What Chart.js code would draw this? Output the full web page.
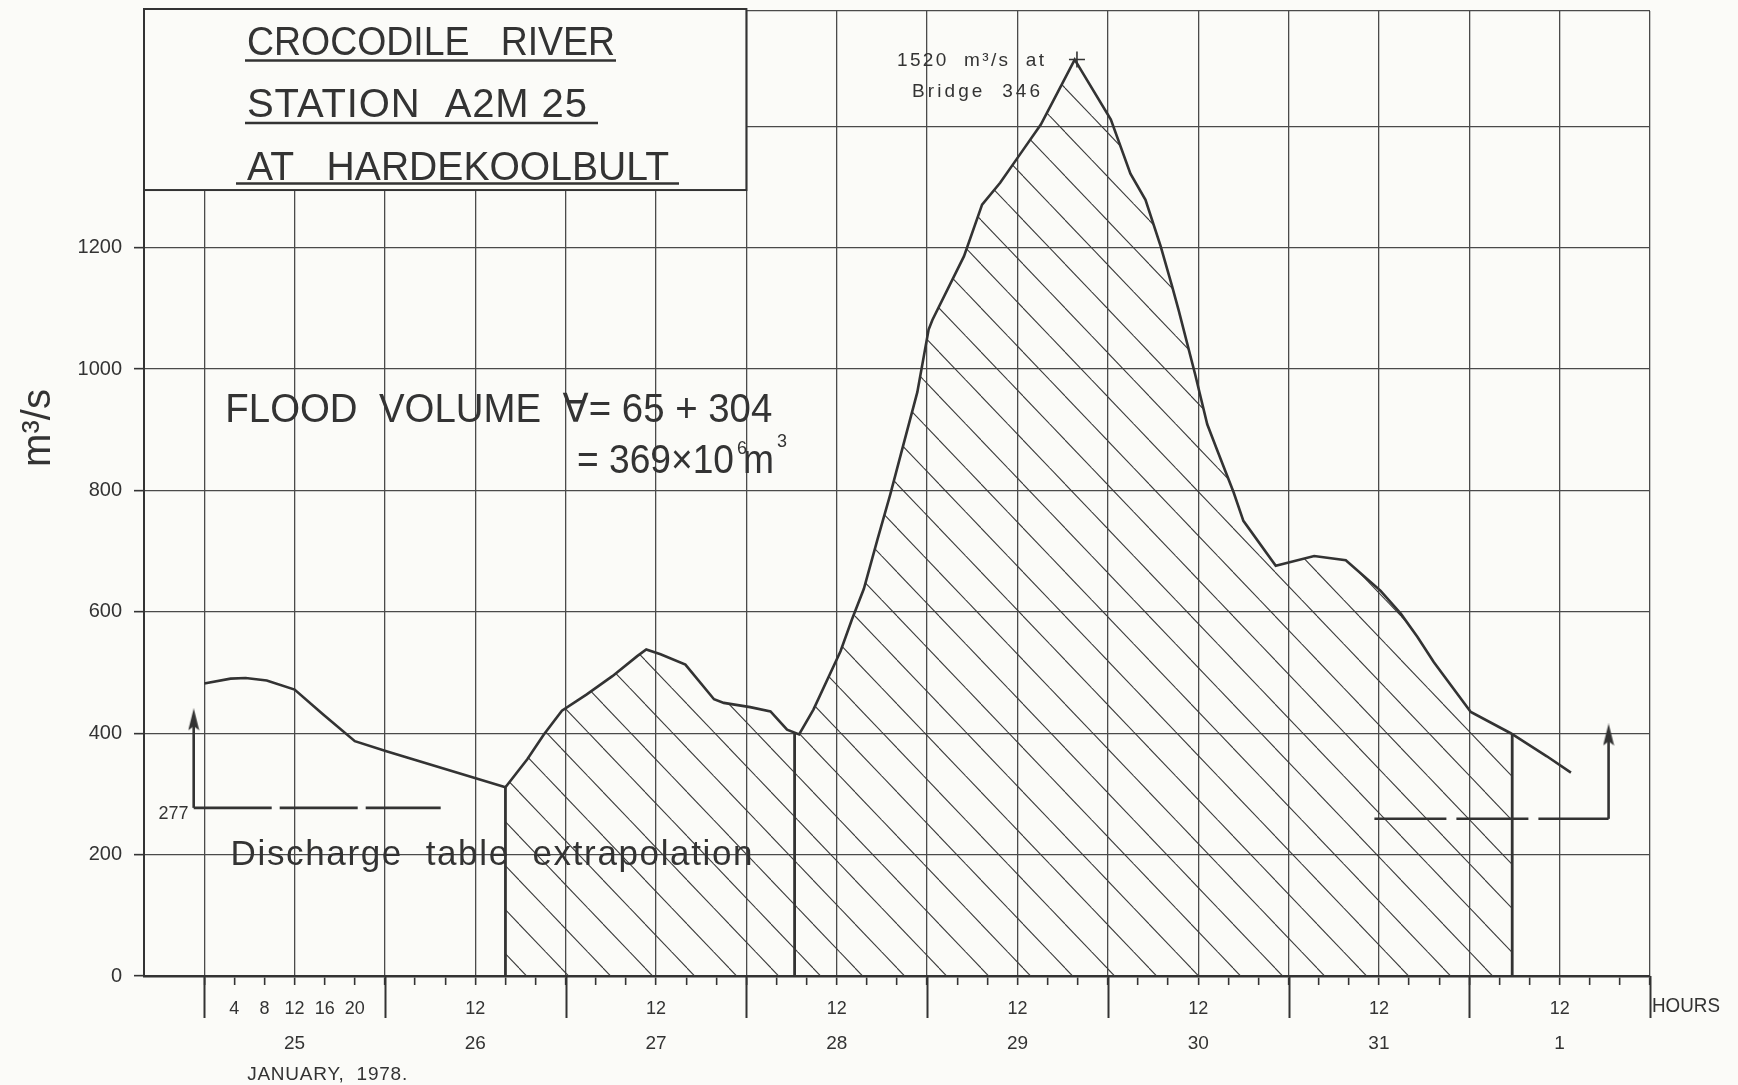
<!DOCTYPE html>
<html>
<head>
<meta charset="utf-8">
<title>Crocodile River - Station A2M25 at Hardekoolbult</title>
<script src="https://cdn.jsdelivr.net/npm/chart.js@4.4.1/dist/chart.umd.min.js"></script>
<style>
  html, body { margin: 0; padding: 0; background: #fbfbf8; }
  canvas { display: block; }
</style>
</head>
<body>
<canvas id="flood" width="1738" height="1085"></canvas>
<script>
// hours counted from 25 January 1978, 00:00
const flowHours = [0, 3.5, 5.5, 8.3, 12, 15.8, 20, 24.3, 40,
  42.9, 45.1, 47.5, 50.8, 54.2, 57.5, 58.7, 60.6, 63.9, 67.7,
  69, 72.5, 75.2, 77.4, 79, 80.9, 84.5, 86, 87.6, 89.4,
  91.1, 92.5, 94.7, 96.2, 96.7, 100.9, 103.3, 105.7, 108.4, 111.1,
  113.3, 115.6, 120.4, 123, 125, 127, 128.5, 129.4, 131.6, 133.2,
  134.5, 136.7, 138, 142.3, 147.4, 151.6, 156.2, 158.9, 161.1, 163.3,
  168.2, 173.5, 178.3, 181.5];
// discharge m3/s
const flowValues = [482, 490, 491, 487, 472, 431, 387, 370, 311,
  357, 398, 437, 464, 494, 527, 538, 530, 513, 456,
  450, 443, 436, 406, 398, 439, 535, 587, 638, 719,
  793, 859, 962, 1065, 1081, 1186, 1271, 1307, 1355, 1403,
  1455, 1510, 1411, 1322, 1279, 1203, 1138, 1097, 991, 909,
  867, 797, 750, 676, 692, 685, 635, 597, 559, 517,
  435, 400, 362, 335];

// vertical lines closing the hatched volumes (65 and 304)
const boundaryHours = [40, 78.4, 173.7];
const boundaryTops = [311, 401, 398];

// discharge table extrapolation marks
const extrapHours = [-1.4, 186.5];
const extrapLevels = [277, 259];
const extrapArrowTops = [418, 393];
const extrapDashEnds = [31.4, 155.4];

const peakHour = 115.9;
const peakValue = 1510;

// axis labels
const dayLabels = ["25", "26", "27", "28", "29", "30", "31", "1"];
const day25Hours = [4, 8, 12, 16, 20];
const yTickValues = [0, 200, 400, 600, 800, 1000, 1200, 1400, 1590];
const titleLines = ["CROCODILE   RIVER", "STATION  A2M 25", "AT   HARDEKOOLBULT"];

const ink = "#333333";
const gridInk = "#4a4a4a";
const paper = "#fbfbf8";
const FONT = '"Liberation Sans", "DejaVu Sans", sans-serif';

// text of given size, stretched with letter spacing or squeezed to a width
function putText(ctx, text, x, y, size, width) {
  ctx.save();
  ctx.font = size + "px " + FONT;
  ctx.fillStyle = ink;
  ctx.textAlign = "left";
  ctx.textBaseline = "alphabetic";
  const w = ctx.measureText(text).width;
  if (width && w < width && text.length > 1) {
    ctx.letterSpacing = ((width - w) / (text.length - 1)).toFixed(2) + "px";
    ctx.fillText(text, x, y);
  } else if (width && w > width) {
    ctx.translate(x, y);
    ctx.scale(width / w, 1);
    ctx.fillText(text, 0, 0);
  } else {
    ctx.fillText(text, x, y);
  }
  ctx.restore();
}

function hatchPattern(ctx) {
  const c = document.createElement("canvas");
  c.width = 42;
  c.height = 44;
  const g = c.getContext("2d");
  g.strokeStyle = "#3a3a3a";
  g.lineWidth = 1.1;
  for (let n = -1; n <= 1; n++) {
    g.beginPath();
    g.moveTo(n * 42 + 15, 0);
    g.lineTo(n * 42 + 57, 44);
    g.stroke();
  }
  return ctx.createPattern(c, "repeat");
}

function arrowHead() {
  const c = document.createElement("canvas");
  c.width = 12;
  c.height = 28;
  const g = c.getContext("2d");
  g.fillStyle = ink;
  g.beginPath();
  g.moveTo(6, 0);
  g.lineTo(11.5, 22);
  g.lineTo(6, 18);
  g.lineTo(0.5, 22);
  g.closePath();
  g.fill();
  return c;
}

const curvePoints = flowHours.map((h, i) => ({ x: h, y: flowValues[i] }));
const hatchStart = boundaryHours[0];
const hatchEnd = boundaryHours[boundaryHours.length - 1];
const hatchPoints = curvePoints.filter(p => p.x >= hatchStart && p.x <= hatchEnd);
hatchPoints.push({ x: hatchEnd, y: boundaryTops[boundaryTops.length - 1] });

const canvas = document.getElementById("flood");
const ctx = canvas.getContext("2d");
const head = arrowHead();

const datasets = [];
datasets.push({
  data: hatchPoints,
  fill: "origin",
  backgroundColor: hatchPattern(ctx),
  borderWidth: 0,
  pointRadius: 0,
  order: 9,
});
datasets.push({
  data: curvePoints,
  borderColor: ink,
  borderWidth: 2.6,
  pointRadius: 0,
  fill: false,
  order: 1,
});
boundaryHours.forEach((h, i) => {
  datasets.push({
    data: [{ x: h, y: 0 }, { x: h, y: boundaryTops[i] }],
    borderColor: ink,
    borderWidth: 2.8,
    pointRadius: 0,
    fill: false,
    order: 2,
  });
});
extrapHours.forEach((h, i) => {
  datasets.push({
    data: [{ x: h, y: extrapLevels[i] }, { x: h, y: extrapArrowTops[i] }],
    borderColor: ink,
    borderWidth: 2.6,
    pointStyle: head,
    pointRadius: [0, 8],
    fill: false,
    order: 2,
  });
  const a = Math.min(h, extrapDashEnds[i]);
  const b = Math.max(h, extrapDashEnds[i]);
  datasets.push({
    data: [{ x: a, y: extrapLevels[i] }, { x: b, y: extrapLevels[i] }],
    borderColor: ink,
    borderWidth: 2.6,
    borderDash: i === 0 ? [78, 8] : [72, 10],
    pointRadius: 0,
    fill: false,
    order: 2,
  });
});
datasets.push({
  data: [{ x: peakHour, y: peakValue }],
  showLine: false,
  pointStyle: "cross",
  pointRadius: 8,
  borderColor: ink,
  borderWidth: 1.6,
  order: 2,
});

// titles, day labels and notes
const notes = {
  id: "notes",
  beforeDraw(chart) {
    const c = chart.ctx;
    c.save();
    c.fillStyle = paper;
    c.fillRect(0, 0, chart.width, chart.height);
    c.restore();
  },
  afterDraw(chart) {
    const c = chart.ctx;
    const xs = chart.scales.x;
    const ys = chart.scales.y;
    const X = h => xs.getPixelForValue(h);
    const Y = v => ys.getPixelForValue(v);

    // title box
    const bx0 = xs.left;
    const bx1 = X(72);
    const by0 = chart.chartArea.top - 2;
    const by1 = Y(1295);
    c.save();
    c.fillStyle = paper;
    c.fillRect(bx0, by0 - 2, bx1 - bx0, by1 - by0 + 2);
    c.strokeStyle = ink;
    c.lineWidth = 2;
    c.strokeRect(bx0, by0, bx1 - bx0, by1 - by0);
    c.restore();

    const lineBase = [55, 117, 180];
    const lineWidth = [368, 340, 422];
    const underY = [60.5, 123, 183.5];
    const underX = [[245, 616], [245, 598], [236, 679]];
    titleLines.forEach((t, i) => {
      putText(c, t, bx0 + 103, lineBase[i], 40, lineWidth[i]);
      c.save();
      c.strokeStyle = ink;
      c.lineWidth = 2.4;
      c.beginPath();
      c.moveTo(underX[i][0], underY[i]);
      c.lineTo(underX[i][1], underY[i]);
      c.stroke();
      c.restore();
    });

    // peak note
    putText(c, "1520  m³/s  at", X(92), Y(1500), 19, 147);
    putText(c, "Bridge  346", X(94), Y(1449), 19, 128);

    // flood volume
    putText(c, "FLOOD  VOLUME  ∀= 65 + 304", X(2.8), Y(912), 40, 547);
    const l2x = X(49.5);
    const l2y = Y(829.6);
    putText(c, "= 369×10", l2x, l2y, 40, 157);
    putText(c, "6", l2x + 160, l2y - 19, 18);
    putText(c, "m", l2x + 166, l2y, 40, 31);
    putText(c, "3", l2x + 200, l2y - 26, 18);

    putText(c, "Discharge  table  extrapolation", X(3.5), Y(183), 35, 522);

    c.save();
    c.font = "18px " + FONT;
    c.fillStyle = ink;
    c.textAlign = "right";
    c.fillText("277", X(-2.1), Y(259));
    c.restore();

    // long day ticks below the axis
    c.save();
    c.strokeStyle = ink;
    c.lineWidth = 2;
    for (let d = 0; d <= dayLabels.length; d++) {
      const px = Math.round(X(d * 24)) + 0.5;
      c.beginPath();
      c.moveTo(px, chart.chartArea.bottom);
      c.lineTo(px, chart.chartArea.bottom + 42);
      c.stroke();
    }
    c.restore();

    // day numbers
    c.save();
    c.font = "19px " + FONT;
    c.fillStyle = ink;
    c.textAlign = "center";
    dayLabels.forEach((d, i) => c.fillText(d, X(12 + 24 * i), 1049));
    c.restore();

    putText(c, "JANUARY,  1978.", X(5.7), 1080, 19, 160);
    putText(c, "HOURS", xs.right + 2, 1012, 20, 68);

    // y axis title
    c.save();
    c.translate(50, 428);
    c.rotate(-Math.PI / 2);
    c.font = "40px " + FONT;
    c.fillStyle = ink;
    c.textAlign = "center";
    c.fillText("m³/s", 0, 0);
    c.restore();
  },
};

new Chart(ctx, {
  type: "line",
  data: { datasets: datasets },
  options: {
    responsive: false,
    animation: false,
    events: [],
    layout: { padding: { top: 11, right: 88, left: 0, bottom: 0 } },
    plugins: { legend: { display: false }, tooltip: { enabled: false } },
    scales: {
      x: {
        type: "linear",
        min: -8,
        max: 192,
        afterBuildTicks(scale) {
          const t = [];
          for (let h = -8; h <= 192; h += 4) t.push({ value: h });
          scale.ticks = t;
        },
        afterFit(scale) {
          scale.height = 109;
          scale.paddingLeft = 0;
          scale.paddingRight = 0;
        },
        border: { color: ink, width: 2.6 },
        grid: {
          color: c => (c.tick && (c.tick.value % 12 === 0 || c.tick.value === -8)) ? gridInk : "rgba(0,0,0,0)",
          tickColor: c => (c.tick && c.tick.value >= 0) ? ink : "rgba(0,0,0,0)",
          lineWidth: 1.3,
          tickWidth: 1.6,
          tickLength: 9,
        },
        ticks: {
          autoSkip: false,
          maxRotation: 0,
          padding: 13,
          color: ink,
          font: { family: FONT, size: 18 },
          callback: v => {
            if (v > 0 && v < 24) return day25Hours.includes(v) ? String(v) : "";
            return (v > 24 && v % 24 === 12) ? "12" : "";
          },
        },
      },
      y: {
        min: 0,
        max: 1590,
        afterBuildTicks(scale) {
          scale.ticks = yTickValues.map(v => ({ value: v }));
        },
        afterFit(scale) {
          scale.width = 144;
          scale.paddingTop = 0;
          scale.paddingBottom = 0;
        },
        border: { color: ink, width: 2 },
        grid: {
          color: gridInk,
          lineWidth: 1.3,
          tickColor: c => (c.tick && c.tick.value <= 1200) ? ink : "rgba(0,0,0,0)",
          tickLength: 10,
          tickWidth: 1.6,
        },
        ticks: {
          padding: 12,
          color: ink,
          font: { family: FONT, size: 20 },
          callback: v => (v <= 1200 ? String(v) : ""),
        },
      },
    },
  },
  plugins: [notes],
});
</script>
</body>
</html>
